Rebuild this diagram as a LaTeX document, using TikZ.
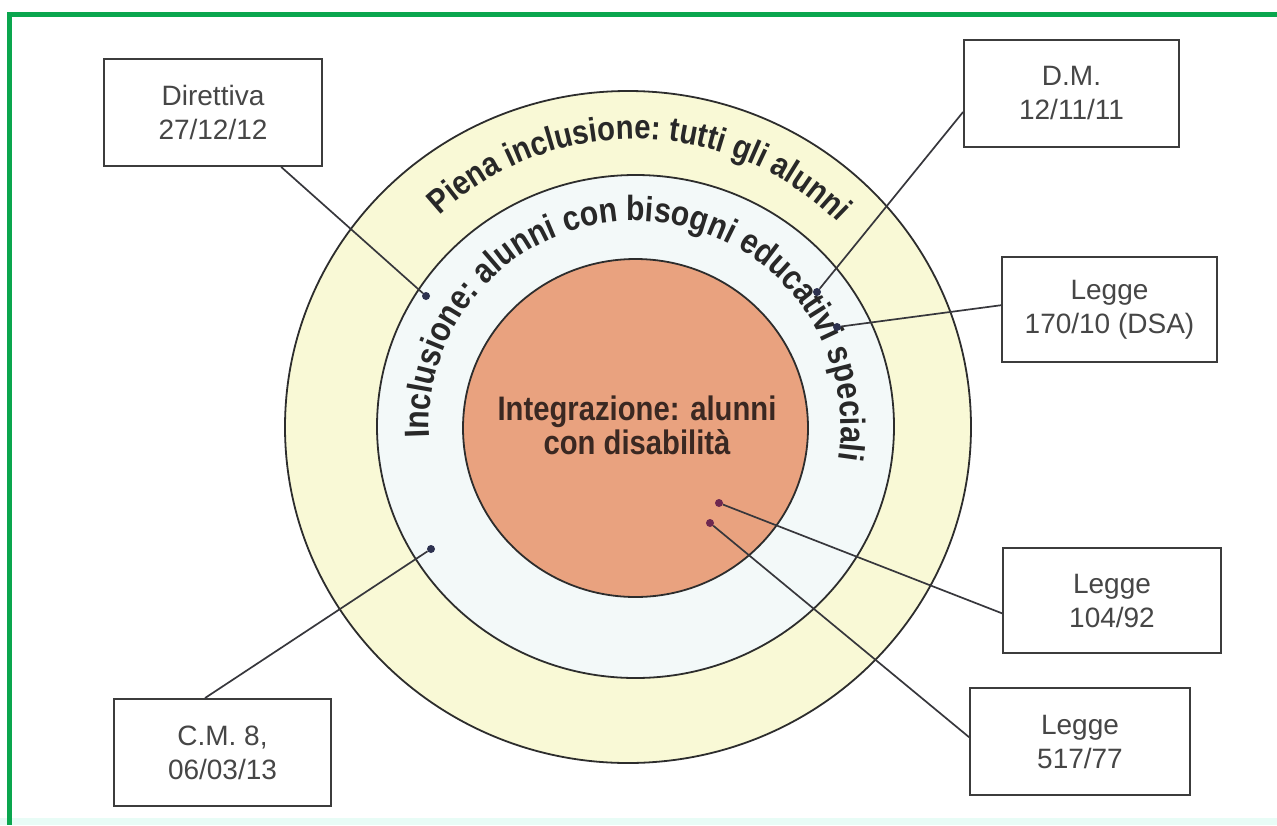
\documentclass[tikz,border=0pt]{standalone}
\usepackage{fontspec}
\setmainfont{Liberation Sans}
\newfontfamily\condbold[FakeStretch=0.86]{Liberation Sans Bold}
\usetikzlibrary{decorations.text,calc}
\definecolor{framegreen}{RGB}{10,166,78}
\definecolor{bottomcyan}{RGB}{232,252,246}
\definecolor{outerfill}{RGB}{249,249,214}
\definecolor{midfill}{RGB}{243,249,249}
\definecolor{innerfill}{RGB}{233,162,127}
\definecolor{ringline}{RGB}{45,45,45}
\definecolor{boxline}{RGB}{60,60,60}
\definecolor{boxtext}{RGB}{70,70,70}
\definecolor{connline}{RGB}{55,55,60}
\definecolor{dotblue}{RGB}{45,50,80}
\definecolor{dotmag}{RGB}{110,40,80}
\definecolor{ringtext}{RGB}{40,40,40}
\definecolor{centertext}{RGB}{58,40,34}
\newcommand\myouterfont{\fontsize{34}{34}\condbold\color{ringtext}}
\newcommand\mymidfont{\fontsize{35}{35}\condbold\color{ringtext}}
\begin{document}
\begin{tikzpicture}[x=1pt,y=1pt,
  lbox/.style={draw=boxline, line width=1.9pt, fill=white, align=center, inner sep=0pt,
    text=boxtext, font=\fontsize{28}{34}\selectfont},
  ldot/.style={circle, fill=dotblue, inner sep=0pt, minimum size=8pt},
  mdot/.style={ldot, fill=dotmag},
  conn/.style={draw=connline, line width=1.7pt},
  ring/.style={draw=ringline, line width=1.8pt}]
\useasboundingbox (0,-825) rectangle (1277,0);
\fill[white] (0,-825) rectangle (1277,0);
\fill[bottomcyan] (0,-825) rectangle (1277,-818);
\fill[framegreen] (7,-17) rectangle (1277,-12);
\fill[framegreen] (7,-825) rectangle (12,-12);
% rings
\filldraw[ring, fill=outerfill] (628,-427) ellipse [x radius=343, y radius=336];
\filldraw[ring, fill=midfill] (635.5,-426.5) ellipse [x radius=258.5, y radius=251.5];
\filldraw[ring, fill=innerfill] (635.5,-428) ellipse [x radius=172.5, y radius=169];
\coordinate (c) at (635,-427);
% ring texts
\path[decorate, decoration={text along path, text align=center,
  text={|\myouterfont|Piena inclusione: tutti gli alunni}}]
  ($(c)+(138:288)$) arc [start angle=138, end angle=40, radius=288];
\path[decorate, decoration={text along path, text align=center,
  text={|\mymidfont|Inclusione: alunni con bisogni educativi speciali}}]
  ($(c)+(186:206)$) arc [start angle=186, end angle=-12, radius=206];
\node[font=\fontsize{34}{34}\condbold, text=centertext, align=center]
  (integ) at (637,-425) {Integrazione: alunni\\con disabilità};
% boxes
\node[lbox, minimum width=218pt, minimum height=107pt] (dir) at (213,-112.5) {Direttiva\\27/12/12};
\node[lbox, minimum width=215pt, minimum height=107pt] (dm) at (1071.5,-93.5) {D.M.\\12/11/11};
\node[lbox, minimum width=215pt, minimum height=105pt] (l170) at (1109.5,-309.5) {Legge\\170/10 (DSA)};
\node[lbox, minimum width=217pt, minimum height=107pt] (cm) at (222.5,-752.5) {C.M. 8,\\06/03/13};
\node[lbox, minimum width=218pt, minimum height=105pt] (l104) at (1112,-600.5) {Legge\\104/92};
\node[lbox, minimum width=220pt, minimum height=107pt] (l517) at (1080,-741.5) {Legge\\517/77};
% dots
\node[ldot] (ddir) at (426,-296) {};
\node[ldot] (ddm) at (817,-292) {};
\node[ldot] (d170) at (837,-327) {};
\node[ldot] (dcm) at (431,-549) {};
\node[mdot] (d104) at (719,-503) {};
\node[mdot] (d517) at (710,-523) {};
% connectors
\draw[conn] (ddir) -- ($(dir.south west)!0.81!(dir.south east)$);
\draw[conn] (ddm) -- ($(dm.north west)!0.67!(dm.south west)$);
\draw[conn] (d170) -- ($(l170.north west)!0.46!(l170.south west)$);
\draw[conn] (dcm) -- ($(cm.north west)!0.42!(cm.north east)$);
\draw[conn] (d104) -- ($(l104.north west)!0.62!(l104.south west)$);
\draw[conn] (d517) -- ($(l517.north west)!0.46!(l517.south west)$);
\end{tikzpicture}
\end{document}
